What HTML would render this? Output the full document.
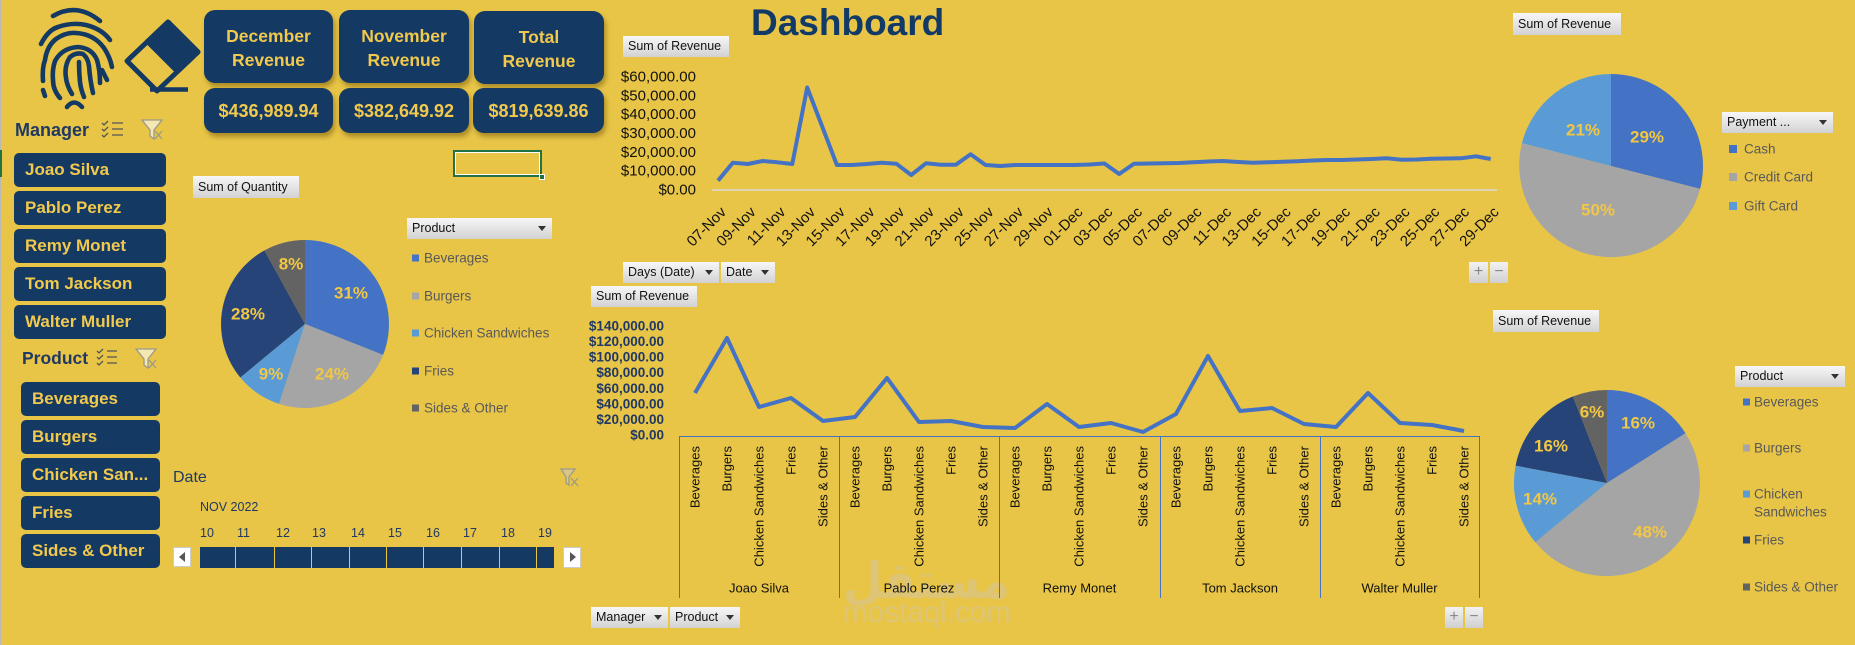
<!DOCTYPE html>
<html><head><meta charset="utf-8">
<style>
*{margin:0;padding:0;box-sizing:border-box}
html,body{width:1855px;height:645px;overflow:hidden;background:#E8C547;font-family:"Liberation Sans",Arial,sans-serif}
.a{position:absolute;white-space:nowrap}
.card{position:absolute;background:#143A64;border-radius:11px;color:#F2C94C;font-weight:bold;text-align:center;box-shadow:2px 4px 5px rgba(100,70,0,.45)}
.hd{font-size:17.5px;line-height:24px;padding-top:14px}
.val{font-size:18px;line-height:47px}
.btn{position:absolute;background:#143A64;border-radius:5px;color:#F2C94C;font-weight:bold;font-size:17px;line-height:34px;height:34px;padding-left:11px;white-space:nowrap}
.gb{position:absolute;height:21px;background:linear-gradient(#F7F7F7,#D2D2D2);font-size:12.5px;line-height:21px;color:#111;padding-left:5px;white-space:nowrap;overflow:hidden}
.tri{position:absolute;right:6px;top:8px;width:0;height:0;border-left:4px solid transparent;border-right:4px solid transparent;border-top:5px solid #333}
.pm{position:absolute;height:21px;background:linear-gradient(#F2F2F2,#D0D0D0);color:#888;font-size:16px;line-height:20px;text-align:center}
.num{position:absolute;top:525px;font-size:12.5px;line-height:16px;color:#1F3864}
.sep{position:absolute;top:547px;width:1px;height:21px;background:#E8C547}
</style></head>
<body>
<!-- left edge -->
<div class="a" style="left:0;top:0;width:1px;height:645px;background:#B8B8B8"></div>
<div class="a" style="left:0;top:150px;width:2px;height:27px;background:#217346"></div>

<!-- KPI cards -->
<div class="card hd" style="left:204px;top:10px;width:129px;height:73px">December<br>Revenue</div>
<div class="card hd" style="left:339px;top:10px;width:130px;height:73px">November<br>Revenue</div>
<div class="card hd" style="left:474px;top:11px;width:130px;height:73px">Total<br>Revenue</div>
<div class="card val" style="left:204px;top:88px;width:129px;height:45px">$436,989.94</div>
<div class="card val" style="left:339px;top:88px;width:130px;height:45px">$382,649.92</div>
<div class="card val" style="left:473px;top:88px;width:131px;height:45px">$819,639.86</div>

<!-- Manager slicer -->
<div class="a" style="left:15px;top:119px;font-weight:bold;font-size:18px;line-height:22px;color:#1F3864">Manager</div>
<div class="btn" style="left:14px;top:153px;width:152px">Joao Silva</div>
<div class="btn" style="left:14px;top:191px;width:152px">Pablo Perez</div>
<div class="btn" style="left:14px;top:229px;width:152px">Remy Monet</div>
<div class="btn" style="left:14px;top:267px;width:152px">Tom Jackson</div>
<div class="btn" style="left:14px;top:305px;width:152px">Walter Muller</div>

<!-- Product slicer -->
<div class="a" style="left:22px;top:347px;font-weight:bold;font-size:17.5px;line-height:22px;color:#1F3864">Product</div>
<div class="btn" style="left:21px;top:382px;width:139px">Beverages</div>
<div class="btn" style="left:21px;top:420px;width:139px">Burgers</div>
<div class="btn" style="left:21px;top:458px;width:139px">Chicken San...</div>
<div class="btn" style="left:21px;top:496px;width:139px">Fries</div>
<div class="btn" style="left:21px;top:534px;width:139px">Sides &amp; Other</div>

<!-- Date timeline -->
<div class="a" style="left:173px;top:469px;font-size:16px;line-height:18px;color:#1F3864">Date</div>
<div class="a" style="left:200px;top:499px;font-size:12.5px;line-height:16px;color:#1F3864">NOV 2022</div>
<div class="num" style="left:200px">10</div>
<div class="num" style="left:237px">11</div>
<div class="num" style="left:276px">12</div>
<div class="num" style="left:312px">13</div>
<div class="num" style="left:351px">14</div>
<div class="num" style="left:388px">15</div>
<div class="num" style="left:426px">16</div>
<div class="num" style="left:463px">17</div>
<div class="num" style="left:501px">18</div>
<div class="num" style="left:538px">19</div>
<div class="a" style="left:200px;top:547px;width:354px;height:21px;background:#143A64"></div>
<div class="sep" style="left:235px"></div><div class="sep" style="left:274px"></div><div class="sep" style="left:311px"></div>
<div class="sep" style="left:349px"></div><div class="sep" style="left:386px"></div><div class="sep" style="left:423px"></div>
<div class="sep" style="left:461px"></div><div class="sep" style="left:499px"></div><div class="sep" style="left:536px"></div>
<div class="a" style="left:173px;top:547px;width:18px;height:20px;background:#fff;border:1px solid #ccc"></div>
<div class="a" style="left:563px;top:547px;width:18px;height:21px;background:#fff;border:1px solid #ccc"></div>

<!-- selected cell -->
<div class="a" style="left:453px;top:150px;width:89px;height:27px;border:2px solid #217346;box-shadow:inset 0 0 0 1px #fff"></div>
<div class="a" style="left:539px;top:174px;width:6px;height:6px;background:#217346;border:1px solid #fff"></div>

<!-- gray field buttons -->
<div class="gb" style="left:193px;top:176px;width:106px;height:22px;line-height:22px">Sum of Quantity</div>
<div class="gb" style="left:407px;top:218px;width:145px">Product<span class="tri"></span></div>
<div class="gb" style="left:623px;top:36px;width:106px">Sum of Revenue</div>
<div class="gb" style="left:623px;top:262px;width:96px">Days (Date)<span class="tri"></span></div>
<div class="gb" style="left:721px;top:262px;width:54px">Date<span class="tri"></span></div>
<div class="pm" style="left:1469px;top:262px;width:19px">+</div>
<div class="pm" style="left:1490px;top:262px;width:18px">−</div>
<div class="gb" style="left:591px;top:286px;width:106px">Sum of Revenue</div>
<div class="gb" style="left:591px;top:607px;width:77px">Manager<span class="tri"></span></div>
<div class="gb" style="left:670px;top:607px;width:70px">Product<span class="tri"></span></div>
<div class="pm" style="left:1445px;top:607px;width:18px">+</div>
<div class="pm" style="left:1465px;top:607px;width:18px">−</div>
<div class="gb" style="left:1513px;top:13px;width:108px;height:22px;line-height:22px">Sum of Revenue</div>
<div class="gb" style="left:1722px;top:112px;width:111px">Payment ...<span class="tri"></span></div>
<div class="gb" style="left:1493px;top:310px;width:106px;height:22px;line-height:22px">Sum of Revenue</div>
<div class="gb" style="left:1735px;top:366px;width:110px">Product<span class="tri"></span></div>

<svg class="a" style="left:0;top:0" width="1855" height="645" viewBox="0 0 1855 645" xmlns="http://www.w3.org/2000/svg" font-family="Liberation Sans, Arial, sans-serif">
  <!-- title -->
  <text x="751" y="35" font-size="37" font-weight="bold" fill="#123A66">Dashboard</text>

  <!-- fingerprint -->
  <g fill="none" stroke="#143A64" stroke-width="4.6" stroke-linecap="round" stroke-linejoin="round">
    <path d="M53 16 Q77 2 100 21"/>
    <path d="M41 44 Q48 30 58 27 Q72 22 86 25 Q102 29 110 40"/>
    <path d="M43 81 Q42 68 45 60 Q47 46 56 39 Q66 32 76 33 Q94 34 104 48 Q110 57 112 67"/>
    <path d="M60 98 Q53 90 53 80 Q52 70 55 61 Q62 48 78 47 Q92 48 97 60 Q100 70 100 83"/>
    <path d="M72 94 Q67 86 66 78 Q64 66 70 57 Q76 52 83 54 Q88 58 89 66 Q90 80 93 93"/>
    <path d="M79 62 Q79 72 80 82 Q81 90 84 97"/>
    <path d="M102 70 L107 80"/>
    <path d="M43 90 L45 96"/>
    <path d="M67 107 Q74 98 82 107"/>
  </g>
  <!-- eraser -->
  <g stroke="#143A64" stroke-linejoin="round">
    <path d="M168 22 L198 52 L157 91 L127 61 Z" fill="none" stroke-width="5"/>
    <path d="M168 22 L198 52 L177.5 71.5 L147.5 41.5 Z" fill="#143A64" stroke-width="5"/>
    <path d="M150 89.5 L188 89.5" stroke-width="4.5" stroke-linecap="butt"/>
  </g>

  <!-- slicer icons -->
  <g stroke="#555" stroke-width="1.3" fill="none">
    <path d="M102 123 l2 2 l4 -4 M102 129 l2 2 l4 -4 M102 135 l2 2 l4 -4"/>
    <path d="M112 123 h11 M112 129 h11 M112 135 h11"/>
    <path d="M97 351 l2 2 l4 -4 M97 357 l2 2 l4 -4 M97 363 l2 2 l4 -4"/>
    <path d="M107 351 h10 M107 357 h10 M107 363 h10"/>
  </g>
  <g stroke="#9a9a8a" stroke-width="1.3">
    <path d="M142 120 L162 120 L154 130 L154 139 L150 136 L150 130 Z" fill="#F4E7B2"/>
    <path d="M155 131 l7 8 M162 131 l-7 8"/>
    <path d="M136 349 L156 349 L148 359 L148 368 L144 365 L144 359 Z" fill="#F4E7B2"/>
    <path d="M149 360 l7 8 M156 360 l-7 8"/>
    <path d="M561 469 L575 469 L569 477 L569 485 L566 483 L566 477 Z" fill="#D9C787"/>
    <path d="M571 478 l7 8 M578 478 l-7 8"/>
  </g>
  <!-- timeline arrows -->
  <path d="M185 552 L179 557 L185 562 Z" fill="#555"/>
  <path d="M570 552 L576 557 L570 562 Z" fill="#555"/>

  <!-- PIE 1 -->
  <path d="M305 324 L305 240 A84 84 0 0 1 383.1 354.9 Z" fill="#4472C4"/>
  <path d="M305 324 L383.1 354.9 A84 84 0 0 1 279 403.9 Z" fill="#A5A5A5"/>
  <path d="M305 324 L279 403.9 A84 84 0 0 1 240.3 377.5 Z" fill="#5B9BD5"/>
  <path d="M305 324 L240.3 377.5 A84 84 0 0 1 264.5 250.4 Z" fill="#264478"/>
  <path d="M305 324 L264.5 250.4 A84 84 0 0 1 305 240 Z" fill="#636363"/>
  <g font-size="17" font-weight="bold" fill="#F2C744" text-anchor="middle" dominant-baseline="central">
    <text x="351" y="293">31%</text><text x="248" y="314">28%</text><text x="291" y="264">8%</text>
    <text x="271" y="374">9%</text><text x="332" y="374">24%</text>
  </g>
  <g font-size="13.5" fill="#595959" dominant-baseline="central">
    <rect x="412" y="254.5" width="7" height="7" fill="#4472C4"/><text x="424" y="258">Beverages</text>
    <rect x="412" y="292.5" width="7" height="7" fill="#A5A5A5"/><text x="424" y="296">Burgers</text>
    <rect x="412" y="329.5" width="7" height="7" fill="#5B9BD5"/><text x="424" y="333">Chicken Sandwiches</text>
    <rect x="412" y="367.5" width="7" height="7" fill="#264478"/><text x="424" y="371">Fries</text>
    <rect x="412" y="404.5" width="7" height="7" fill="#636363"/><text x="424" y="408">Sides &amp; Other</text>
  </g>

  <!-- PIE 2 -->
  <path d="M1611 166 L1611 74 A92 92 0 0 1 1700.1 188.9 Z" fill="#4472C4"/>
  <path d="M1611 166 L1700.1 188.9 A92 92 0 0 1 1521.9 143.1 Z" fill="#A5A5A5"/>
  <path d="M1611 166 L1521.9 143.1 A92 92 0 0 1 1611 74 Z" fill="#5B9BD5"/>
  <g font-size="17" font-weight="bold" fill="#F2C744" text-anchor="middle" dominant-baseline="central">
    <text x="1647" y="137">29%</text><text x="1583" y="130">21%</text><text x="1598" y="210">50%</text>
  </g>
  <g font-size="13.5" fill="#595959" dominant-baseline="central">
    <rect x="1729" y="145" width="8" height="8" fill="#4472C4"/><text x="1744" y="149">Cash</text>
    <rect x="1729" y="173" width="8" height="8" fill="#A5A5A5"/><text x="1744" y="177">Credit Card</text>
    <rect x="1729" y="202" width="8" height="8" fill="#5B9BD5"/><text x="1744" y="206">Gift Card</text>
  </g>

  <!-- PIE 3 -->
  <path d="M1607 483 L1607 390 A93 93 0 0 1 1685.5 433.2 Z" fill="#4472C4"/>
  <path d="M1607 483 L1685.5 433.2 A93 93 0 0 1 1535.3 542.3 Z" fill="#A5A5A5"/>
  <path d="M1607 483 L1535.3 542.3 A93 93 0 0 1 1515.6 465.6 Z" fill="#5B9BD5"/>
  <path d="M1607 483 L1515.6 465.6 A93 93 0 0 1 1572.8 396.5 Z" fill="#264478"/>
  <path d="M1607 483 L1572.8 396.5 A93 93 0 0 1 1607 390 Z" fill="#636363"/>
  <g font-size="17" font-weight="bold" fill="#F2C744" text-anchor="middle" dominant-baseline="central">
    <text x="1638" y="423">16%</text><text x="1592" y="412">6%</text><text x="1551" y="446">16%</text>
    <text x="1540" y="499">14%</text><text x="1650" y="532">48%</text>
  </g>
  <g font-size="13.5" fill="#595959" dominant-baseline="central">
    <rect x="1743" y="398.5" width="7" height="7" fill="#4472C4"/><text x="1754" y="402">Beverages</text>
    <rect x="1743" y="444.5" width="7" height="7" fill="#A5A5A5"/><text x="1754" y="448">Burgers</text>
    <rect x="1743" y="490.5" width="7" height="7" fill="#5B9BD5"/><text x="1754" y="494">Chicken</text>
    <text x="1754" y="512">Sandwiches</text>
    <rect x="1743" y="536.5" width="7" height="7" fill="#264478"/><text x="1754" y="540">Fries</text>
    <rect x="1743" y="583.5" width="7" height="7" fill="#636363"/><text x="1754" y="587">Sides &amp; Other</text>
  </g>

  <!-- TOP LINE CHART -->
  <g font-size="15" fill="#111" text-anchor="end" dominant-baseline="central">
    <text x="696" y="77">$60,000.00</text><text x="696" y="95.8">$50,000.00</text>
    <text x="696" y="114.7">$40,000.00</text><text x="696" y="133.5">$30,000.00</text>
    <text x="696" y="152.3">$20,000.00</text><text x="696" y="171.2">$10,000.00</text>
    <text x="696" y="190">$0.00</text>
  </g>
  <line x1="712" y1="190" x2="1497" y2="190" stroke="#DADADA" stroke-width="1.5"/>
  <polyline fill="none" stroke="#4472C4" stroke-width="4" stroke-linejoin="round" points="718,180.7 732.9,162.7 747.7,164 762.6,161 777.4,162.3 792.3,164 807.2,87.5 822,126 836.9,165 851.7,165 866.6,164 881.5,162.7 896.3,163.7 911.2,175 926,163.3 940.9,164.7 955.8,164.7 970.6,154.3 985.5,165 1000.3,166 1015.2,165 1030.1,165 1044.9,165 1059.8,165 1074.6,165 1089.5,164.5 1104.4,163.5 1119.2,174 1134.1,163.7 1148.9,163.5 1163.8,163.3 1178.7,163 1193.5,162.3 1208.4,161.5 1223.2,161 1238.1,162 1253,162.7 1267.8,162.3 1282.7,161.7 1297.5,161.2 1312.4,160.5 1327.3,160 1342.1,160 1357,159.5 1371.8,159 1386.7,158.3 1401.6,159.7 1416.4,159.5 1431.3,158.7 1446.1,158.5 1461,158.3 1475.9,156.3 1490.7,159"/>
  <g font-size="15" fill="#111" text-anchor="end">
    <text transform="translate(727,213) rotate(-45)">07-Nov</text>
    <text transform="translate(756.7,213) rotate(-45)">09-Nov</text>
    <text transform="translate(786.4,213) rotate(-45)">11-Nov</text>
    <text transform="translate(816.2,213) rotate(-45)">13-Nov</text>
    <text transform="translate(845.9,213) rotate(-45)">15-Nov</text>
    <text transform="translate(875.6,213) rotate(-45)">17-Nov</text>
    <text transform="translate(905.3,213) rotate(-45)">19-Nov</text>
    <text transform="translate(935,213) rotate(-45)">21-Nov</text>
    <text transform="translate(964.8,213) rotate(-45)">23-Nov</text>
    <text transform="translate(994.5,213) rotate(-45)">25-Nov</text>
    <text transform="translate(1024.2,213) rotate(-45)">27-Nov</text>
    <text transform="translate(1053.9,213) rotate(-45)">29-Nov</text>
    <text transform="translate(1083.6,213) rotate(-45)">01-Dec</text>
    <text transform="translate(1113.4,213) rotate(-45)">03-Dec</text>
    <text transform="translate(1143.1,213) rotate(-45)">05-Dec</text>
    <text transform="translate(1172.8,213) rotate(-45)">07-Dec</text>
    <text transform="translate(1202.5,213) rotate(-45)">09-Dec</text>
    <text transform="translate(1232.2,213) rotate(-45)">11-Dec</text>
    <text transform="translate(1262,213) rotate(-45)">13-Dec</text>
    <text transform="translate(1291.7,213) rotate(-45)">15-Dec</text>
    <text transform="translate(1321.4,213) rotate(-45)">17-Dec</text>
    <text transform="translate(1351.1,213) rotate(-45)">19-Dec</text>
    <text transform="translate(1380.8,213) rotate(-45)">21-Dec</text>
    <text transform="translate(1410.6,213) rotate(-45)">23-Dec</text>
    <text transform="translate(1440.3,213) rotate(-45)">25-Dec</text>
    <text transform="translate(1470,213) rotate(-45)">27-Dec</text>
    <text transform="translate(1499.7,213) rotate(-45)">29-Dec</text>
  </g>

  <!-- LOWER LINE CHART -->
  <g font-size="13.5" font-weight="bold" fill="#1F3864" text-anchor="end" dominant-baseline="central">
    <text x="664" y="326">$140,000.00</text><text x="664" y="341.6">$120,000.00</text>
    <text x="664" y="357.1">$100,000.00</text><text x="664" y="372.7">$80,000.00</text>
    <text x="664" y="388.3">$60,000.00</text><text x="664" y="403.9">$40,000.00</text>
    <text x="664" y="419.4">$20,000.00</text><text x="664" y="435">$0.00</text>
  </g>
  <!-- watermark -->
  <g fill="#DDC575">
    <text x="843" y="598" font-size="50" font-weight="bold" textLength="167" lengthAdjust="spacingAndGlyphs" font-family="DejaVu Sans, sans-serif">مستقل</text>
    <text x="843" y="622" font-size="29.5" textLength="168" lengthAdjust="spacingAndGlyphs">mostaql.com</text>
  </g>
  <g stroke="#4472C4" stroke-width="1">
    <line x1="679" y1="436.5" x2="1479" y2="436.5"/>
    <line x1="679.5" y1="436" x2="679.5" y2="598"/>
    <line x1="839.5" y1="436" x2="839.5" y2="598"/>
    <line x1="999.5" y1="436" x2="999.5" y2="598"/>
    <line x1="1160.5" y1="436" x2="1160.5" y2="598"/>
    <line x1="1320.5" y1="436" x2="1320.5" y2="598"/>
    <line x1="1479.5" y1="436" x2="1479.5" y2="598"/>
  </g>
  <polyline fill="none" stroke="#4472C4" stroke-width="4" stroke-linejoin="round" points="695,393 727,338 759,407 791,398 823,421 855,417 887,378 919,422 951,421 983,427 1015,428 1047,404 1079,427 1111,423 1143,432 1176,414 1208,356 1240,411 1272,408 1304,424 1336,427 1368,393 1400,423 1432,425 1464,431"/>
  <g font-size="13" fill="#111" text-anchor="end">
    <text transform="translate(699.5,446) rotate(-90)">Beverages</text>
    <text transform="translate(731.5,446) rotate(-90)">Burgers</text>
    <text transform="translate(763.5,446) rotate(-90)">Chicken Sandwiches</text>
    <text transform="translate(795.5,446) rotate(-90)">Fries</text>
    <text transform="translate(827.5,446) rotate(-90)">Sides &amp; Other</text>
    <text transform="translate(859.5,446) rotate(-90)">Beverages</text>
    <text transform="translate(891.5,446) rotate(-90)">Burgers</text>
    <text transform="translate(923.5,446) rotate(-90)">Chicken Sandwiches</text>
    <text transform="translate(955.5,446) rotate(-90)">Fries</text>
    <text transform="translate(987.5,446) rotate(-90)">Sides &amp; Other</text>
    <text transform="translate(1019.5,446) rotate(-90)">Beverages</text>
    <text transform="translate(1051.5,446) rotate(-90)">Burgers</text>
    <text transform="translate(1083.5,446) rotate(-90)">Chicken Sandwiches</text>
    <text transform="translate(1115.5,446) rotate(-90)">Fries</text>
    <text transform="translate(1147.5,446) rotate(-90)">Sides &amp; Other</text>
    <text transform="translate(1180.5,446) rotate(-90)">Beverages</text>
    <text transform="translate(1212.5,446) rotate(-90)">Burgers</text>
    <text transform="translate(1244.5,446) rotate(-90)">Chicken Sandwiches</text>
    <text transform="translate(1276.5,446) rotate(-90)">Fries</text>
    <text transform="translate(1308.5,446) rotate(-90)">Sides &amp; Other</text>
    <text transform="translate(1340.5,446) rotate(-90)">Beverages</text>
    <text transform="translate(1372.5,446) rotate(-90)">Burgers</text>
    <text transform="translate(1404.5,446) rotate(-90)">Chicken Sandwiches</text>
    <text transform="translate(1436.5,446) rotate(-90)">Fries</text>
    <text transform="translate(1468.5,446) rotate(-90)">Sides &amp; Other</text>
  </g>
  <g font-size="13" fill="#111" text-anchor="middle" dominant-baseline="central">
    <text x="759" y="588">Joao Silva</text>
    <text x="919" y="588">Pablo Perez</text>
    <text x="1079.5" y="588">Remy Monet</text>
    <text x="1240" y="588">Tom Jackson</text>
    <text x="1399.5" y="588">Walter Muller</text>
  </g>
</svg>
</body></html>
